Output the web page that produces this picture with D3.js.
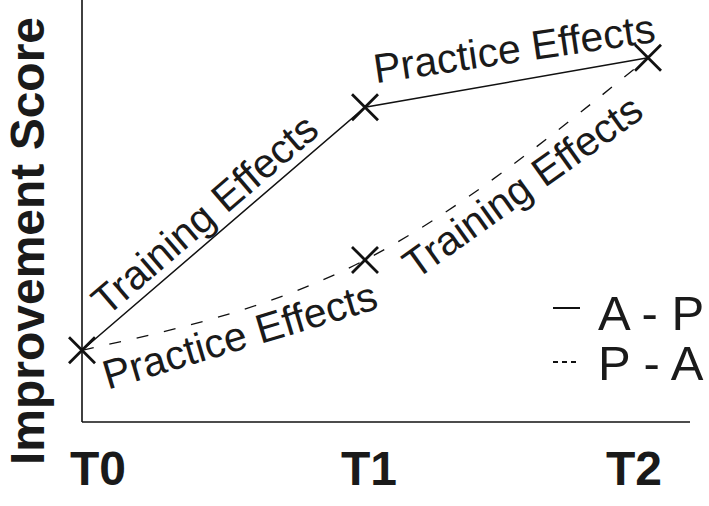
<!DOCTYPE html>
<html lang="en">
<head>
  <meta charset="UTF-8">
  <title>Improvement Score</title>
  <script src="https://d3js.org/d3.v7.min.js"></script>
  <style>
    body { margin: 0; background: #fff; }
    svg { display: block; font-family: "Liberation Sans", Arial, sans-serif; }
    .axis-line { stroke: #111; stroke-width: 1.6px; }
    .ap-line { fill: none; stroke: #111; stroke-width: 1.5px; }
    .pa-line { fill: none; stroke: #111; stroke-width: 1.3px; stroke-dasharray: 12 16; }
    .marker { fill: none; stroke: #111; stroke-width: 2.8px; }
    .tick-label { font-weight: bold; font-size: 48px; fill: #1a1a1a; }
    .note { font-size: 41px; fill: #1a1a1a; }
    .legend-text { font-size: 49px; fill: #1a1a1a; }
  </style>
</head>
<body>
  <svg width="709" height="506"></svg>

  <script>
    // Chart data
    const times = ["T0", "T1", "T2"];
    const apScores = [17, 74.6, 86.3];   // A - P (solid)
    const paScores = [17, 38.4, 86.3];   // P - A (dashed)
    const legendLabels = ["A - P", "P - A"];

    // Annotations: text, series, segment start index, offset above(+)/below(-) the chord, shift along it
    const notes = [
      { text: "Training Effects", series: "ap", seg: 0, normal: 9, along: -5, tilt: 0 },
      { text: "Practice Effects", series: "ap", seg: 1, normal: 18, along: 13, tilt: 1.5 },
      { text: "Practice Effects", series: "pa", seg: 0, normal: -48, along: 6, tilt: 1 },
      { text: "Training Effects", series: "pa", seg: 1, normal: -46, along: -3, tilt: 0 }
    ];

    const svg = d3.select("svg");
    const axisX = 82, axisY = 422, axisRight = 690;

    const x = d3.scalePoint().domain(times).range([82, 648]);
    const y = d3.scaleLinear().domain([0, 100]).range([axisY, 0]);

    const series = {
      ap: times.map((t, i) => ({ t, v: apScores[i] })),
      pa: times.map((t, i) => ({ t, v: paScores[i] }))
    };

    // Axes (plain lines, no ticks)
    svg.append("line").attr("class", "axis-line")
      .attr("x1", axisX).attr("x2", axisX).attr("y1", 0).attr("y2", axisY);
    svg.append("line").attr("class", "axis-line")
      .attr("x1", axisX).attr("x2", axisRight).attr("y1", axisY).attr("y2", axisY);

    // Tick labels
    const anchors = ["start", "middle", "end"];
    const shifts = [-12, 4, 14];
    svg.selectAll(".tick-label")
      .data(times)
      .enter().append("text")
      .attr("class", "tick-label")
      .attr("x", (d, i) => x(d) + shifts[i])
      .attr("y", 485)
      .attr("text-anchor", (d, i) => anchors[i])
      .text(d => d);

    // Y axis title
    svg.append("text")
      .attr("transform", "translate(44,241) rotate(-90)")
      .attr("text-anchor", "middle")
      .attr("class", "tick-label")
      .text("Improvement Score");

    // Lines
    const lineStraight = d3.line().x(d => x(d.t)).y(d => y(d.v));
    const lineCurved = d3.line().x(d => x(d.t)).y(d => y(d.v)).curve(d3.curveNatural);

    svg.append("path").attr("class", "pa-line").attr("d", lineCurved(series.pa));
    svg.append("path").attr("class", "ap-line").attr("d", lineStraight(series.ap));

    // X markers
    const half = 13;
    const crossPath = d => {
      const cx = x(d.t), cy = y(d.v);
      return `M${cx - half},${cy - half}L${cx + half},${cy + half}M${cx - half},${cy + half}L${cx + half},${cy - half}`;
    };
    svg.selectAll(".marker")
      .data(series.ap.concat(series.pa.slice(1, 2)))
      .enter().append("path")
      .attr("class", "marker")
      .attr("d", crossPath);

    // Annotation labels along each segment
    notes.forEach(n => {
      const p0 = series[n.series][n.seg], p1 = series[n.series][n.seg + 1];
      const x0 = x(p0.t), y0 = y(p0.v), x1 = x(p1.t), y1 = y(p1.v);
      const len = Math.hypot(x1 - x0, y1 - y0);
      const ux = (x1 - x0) / len, uy = (y1 - y0) / len;
      const nx = uy, ny = -ux; // normal pointing up
      const cx = (x0 + x1) / 2 + ux * n.along + nx * n.normal;
      const cy = (y0 + y1) / 2 + uy * n.along + ny * n.normal;
      const angle = Math.atan2(y1 - y0, x1 - x0) * 180 / Math.PI + n.tilt;
      svg.append("text")
        .attr("class", "note")
        .attr("text-anchor", "middle")
        .attr("transform", `translate(${cx},${cy}) rotate(${angle})`)
        .text(n.text);
    });

    // Legend
    const legend = svg.append("g").attr("transform", "translate(553,308)");
    legendLabels.forEach((label, i) => {
      const g = legend.append("g").attr("transform", `translate(0,${i * 54})`);
      g.append("line")
        .attr("x1", 0).attr("x2", 27).attr("y1", 0).attr("y2", 0)
        .attr("stroke", "#111").attr("stroke-width", 2)
        .attr("stroke-dasharray", i === 0 ? null : "5 4");
      g.append("text")
        .attr("class", "legend-text")
        .attr("x", 45).attr("y", i === 0 ? 22 : 18)
        .text(label);
    });
  </script>
</body>
</html>
